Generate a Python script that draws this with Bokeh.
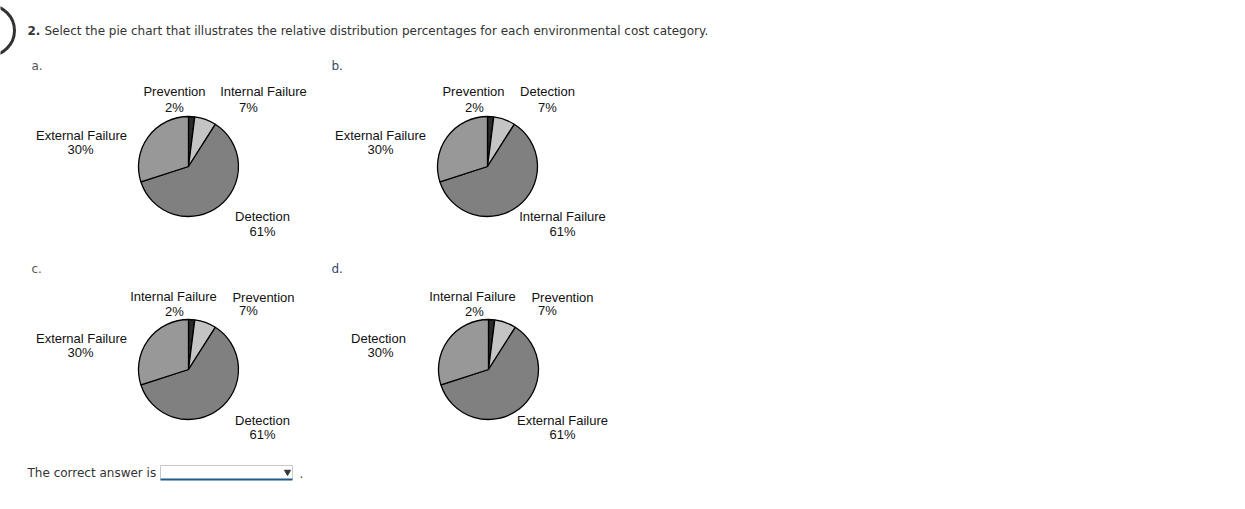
import math
from bokeh.plotting import figure
from bokeh.models import ColumnDataSource
from bokeh.core.properties import value
from bokeh.embed import file_html
from bokeh.resources import INLINE

# ---------------- data ----------------
question = "Select the pie chart that illustrates the relative distribution percentages for each environmental cost category."
option_letters = ["a.", "b.", "c.", "d."]
slice_values = [2, 7, 61, 30]          # percent, clockwise from 12 o'clock
slice_colors = ["#2b2b2b", "#c4c4c4", "#808080", "#989898"]
labels_a = ["Prevention", "Internal Failure", "Detection", "External Failure"]
labels_b = ["Prevention", "Detection", "Internal Failure", "External Failure"]
labels_c = ["Internal Failure", "Prevention", "Detection", "External Failure"]
labels_d = ["Internal Failure", "Prevention", "External Failure", "Detection"]
all_labels = [labels_a, labels_b, labels_c, labels_d]

# ---------------- layout (pixel positions) ----------------
W, H = 1245, 509
pie_centers = [(188, 166), (487, 166), (188, 369), (488, 369)]
pie_radius = 50
letter_pos = [(31, 65), (331, 65), (31, 268), (331, 268)]
letter_colors = ["#555555", "#34496a", "#555555", "#34496a"]
# (name_x, name_y, pct_x, pct_y) for each slice in each chart
label_pos = [
    [(174, 91, 174, 107), (263, 91, 248, 107), (262, 216, 262, 231), (81, 135, 80, 149)],
    [(473, 91, 474, 107), (547, 91, 547, 107), (562, 216, 562, 231), (380, 135, 380, 149)],
    [(173, 296, 174, 311), (263, 297, 248, 310), (262, 420, 262, 434), (81, 338, 80, 352)],
    [(472, 296, 474, 311), (562, 297, 547, 310), (562, 420, 562, 434), (378, 338, 380, 352)],
]

p = figure(width=W, height=H, x_range=(0, W), y_range=(H, 0),
           output_backend="svg", toolbar_location=None, min_border=0)
p.axis.visible = False
p.grid.visible = False
p.outline_line_color = None
p.background_fill_color = "white"
p.border_fill_color = "white"

# question number circle
p.circle(x=-11, y=30, radius=25, fill_color=None, line_color="#333333", line_width=3)

# header
p.text(x=[27], y=[30], text=["2."], text_font=value("DejaVu Sans"), text_font_size="12px",
       text_font_style="bold", text_color="#333333", text_baseline="middle")
p.text(x=[44], y=[30], text=[question], text_font=value("DejaVu Sans"), text_font_size="12px",
       text_color="#333333", text_baseline="middle")

# option letters
for (lx, ly), letter, lc in zip(letter_pos, option_letters, letter_colors):
    p.text(x=[lx], y=[ly], text=[letter], text_font=value("DejaVu Sans"), text_font_size="12px",
           text_color=lc, text_baseline="middle")

# pies
total = sum(slice_values)
for (cx, cy), labels, lpos in zip(pie_centers, all_labels, label_pos):
    starts, ends = [], []
    cum = 0
    for v in slice_values:
        starts.append(math.pi / 2 - 2 * math.pi * cum / total)
        cum += v
        ends.append(math.pi / 2 - 2 * math.pi * cum / total)
    src = ColumnDataSource(dict(x=[cx] * 4, y=[cy] * 4, start=starts, end=ends,
                                color=slice_colors, label=labels))
    p.wedge(x="x", y="y", radius=pie_radius, start_angle="start", end_angle="end",
            direction="clock", fill_color="color", line_color="black", line_width=1.3,
            source=src)
    for lab, v, (nx, ny, px_, py_) in zip(labels, slice_values, lpos):
        p.text(x=[nx], y=[ny], text=[lab], text_font=value("Liberation Sans"), text_font_size="13px",
               text_color="#111111", text_align="center", text_baseline="middle")
        p.text(x=[px_], y=[py_], text=[f"{v}%"], text_font=value("Liberation Sans"), text_font_size="13px",
               text_color="#111111", text_align="center", text_baseline="middle")

# answer line
p.text(x=[27], y=[472], text=["The correct answer is"], text_font=value("DejaVu Sans"),
       text_font_size="12px", text_color="#333333", text_baseline="middle")
p.quad(left=[160], right=[292], top=[465], bottom=[479], fill_color="white",
       line_color="#c8c8c8", line_width=1)
p.segment(x0=[160], y0=[479], x1=[292], y1=[479], line_color="#1f5a8a", line_width=2)
p.scatter(x=[287], y=[471.5], marker="inverted_triangle", size=6, fill_color="#333333",
          line_color="#333333")
p.text(x=[299], y=[473], text=["."], text_font=value("DejaVu Sans"), text_font_size="12px",
       text_color="#333333", text_baseline="middle")

open("out.html", "w").write(file_html(p, INLINE))
